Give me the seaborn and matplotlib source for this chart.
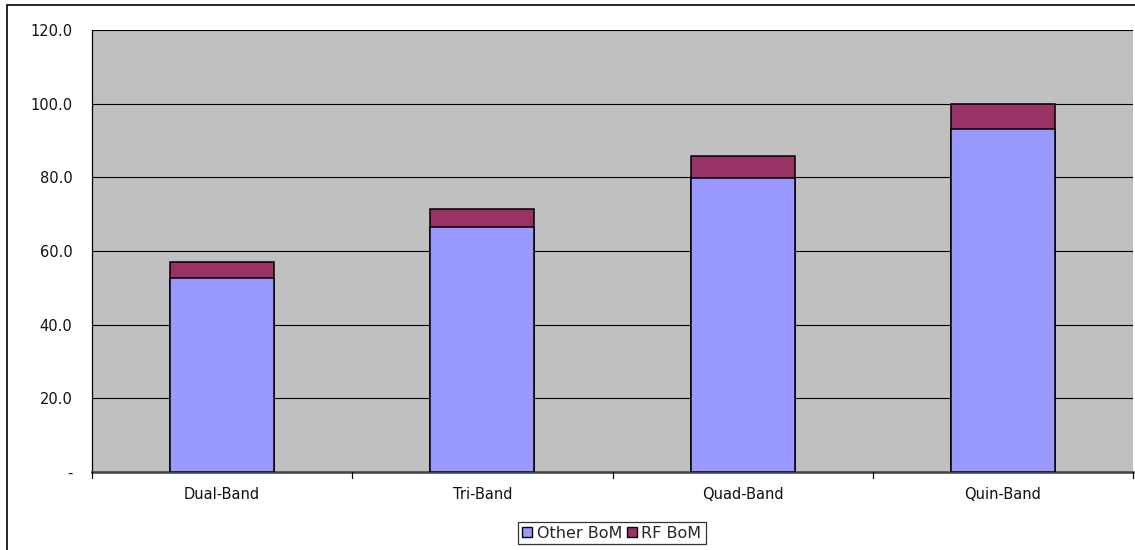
import matplotlib
matplotlib.use("Agg")
import matplotlib.pyplot as plt
from matplotlib.patches import Patch
import seaborn as sns
import pandas as pd
import numpy as np

categories = ["Dual-Band", "Tri-Band", "Quad-Band", "Quin-Band"]
other_bom = [52.8, 66.5, 79.8, 93.0]
rf_bom = [4.1, 4.9, 6.1, 7.0]
y_ticks = [0, 20, 40, 60, 80, 100, 120]
y_labels = ["-", "20.0", "40.0", "60.0", "80.0", "100.0", "120.0"]

OTHER_COLOR = "#9999FF"
RF_COLOR = "#993366"
FONT = "DejaVu Sans"

sns.set_theme(style="white")
plt.rcParams["font.family"] = [FONT]
plt.rcParams["font.sans-serif"] = [FONT]

fig = plt.figure(figsize=(11.35, 5.5), dpi=100)
fig.patch.set_facecolor("white")
ax = fig.add_axes([92 / 1135, 1 - 472 / 550, (1133 - 92) / 1135, 442 / 550])
ax.set_facecolor("#C0C0C0")

df = pd.DataFrame({"cat": categories, "other": other_bom, "rf": rf_bom})
df["total"] = df["other"] + df["rf"]

# stacked bars: full total in RF colour, Other BoM drawn over its lower part
sns.barplot(data=df, x="cat", y="total", color=RF_COLOR, width=0.4,
            edgecolor="black", linewidth=1.1, ax=ax, saturation=1, zorder=3)
sns.barplot(data=df, x="cat", y="other", color=OTHER_COLOR, width=0.4,
            edgecolor="black", linewidth=1.1, ax=ax, saturation=1, zorder=4)
if ax.get_legend() is not None:
    ax.get_legend().remove()

ax.set_ylim(0, 120)
ax.set_xlim(-0.5, len(categories) - 0.5)
ax.set_yticks(y_ticks)
ax.set_yticklabels(y_labels)
ax.set_xlabel("")
ax.set_ylabel("")
ax.tick_params(axis="x", length=0, pad=11, labelsize=10.5, labelcolor="#111111")
ax.tick_params(axis="y", length=4, width=0.9, color="black", direction="out",
               pad=10, labelsize=10.5, labelcolor="#111111")
for lbl in ax.get_xticklabels() + ax.get_yticklabels():
    lbl.set_fontfamily(FONT)
ax.yaxis.grid(True, color="black", linewidth=0.8, zorder=0)
ax.set_axisbelow(True)

for side in ["top", "right"]:
    ax.spines[side].set_visible(False)
ax.spines["left"].set_color("black")
ax.spines["left"].set_linewidth(0.9)
ax.spines["bottom"].set_color("#404040")
ax.spines["bottom"].set_linewidth(1.8)

# tick marks between categories, below the axis
for b in np.arange(-0.5, len(categories), 1.0):
    ax.plot([b, b], [0, -1.6], color="black", lw=0.9, clip_on=False, zorder=5)

leg_handles = [Patch(facecolor=OTHER_COLOR, edgecolor="black"),
               Patch(facecolor=RF_COLOR, edgecolor="black")]
leg = fig.legend(leg_handles, ["Other BoM", "RF BoM"], loc="center",
                 bbox_to_anchor=(612 / 1135, 1 - 533 / 550), ncol=2,
                 prop={"family": FONT, "size": 11.5}, frameon=True,
                 fancybox=False, handlelength=0.6, handleheight=0.6,
                 handletextpad=0.3, columnspacing=0.3, borderpad=0.25,
                 borderaxespad=0)
leg.get_frame().set_edgecolor("black")
leg.get_frame().set_linewidth(0.9)

# outer chart border
fig.add_artist(plt.Rectangle((7 / 1135, -0.01), 1.2, 1 - 5 / 550 + 0.01,
                             transform=fig.transFigure, fill=False,
                             edgecolor="black", linewidth=1.2))

fig.savefig("out.png", dpi=100)
